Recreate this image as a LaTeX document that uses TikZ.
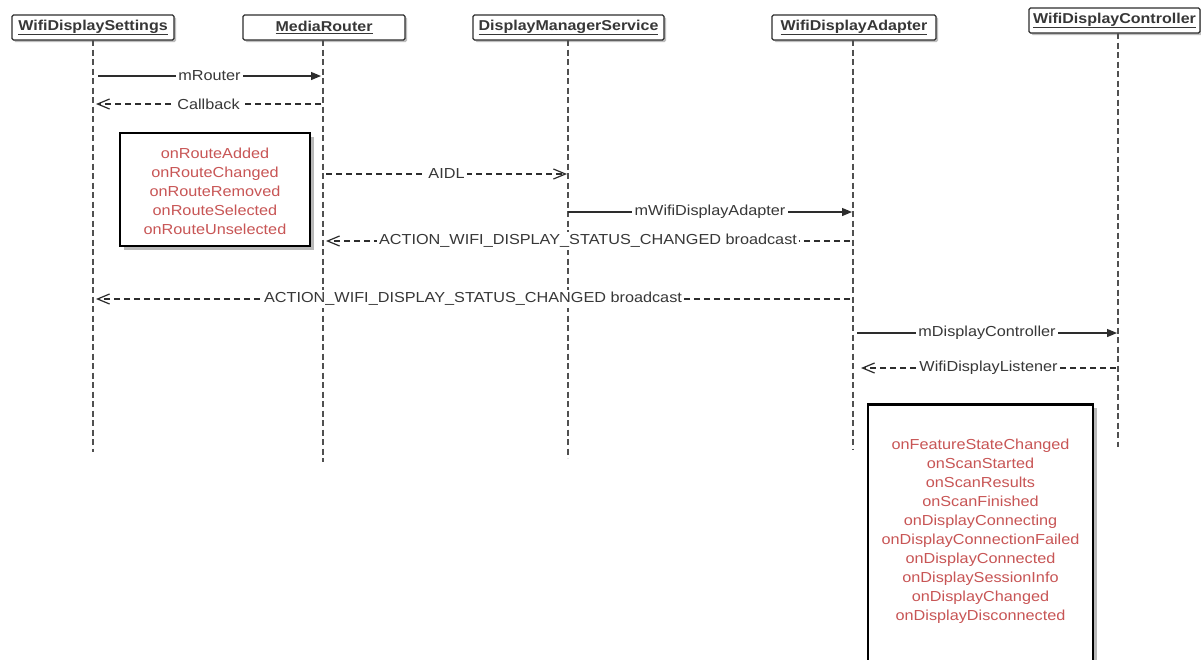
\documentclass[tikz,border=0pt]{standalone}
\usepackage{fontspec}
\setmainfont{Liberation Sans}[FakeStretch=1.12]
\usetikzlibrary{arrows.meta,shadows}
\definecolor{ink}{RGB}{45,45,45}
\definecolor{lifeink}{RGB}{80,80,80}
\definecolor{txt}{RGB}{55,55,55}
\definecolor{notered}{RGB}{200,85,85}
\tikzset{
 head/.style={draw=ink, line width=1.2pt, rounded corners=1.5pt, fill=white,
   minimum height=25pt, inner sep=0pt, text=txt,
   font=\bfseries\fontsize{14.3}{17}\selectfont,
   drop shadow={shadow xshift=2pt, shadow yshift=-2pt, fill=gray!50, opacity=1}},
 life/.style={draw=lifeink, line width=1.1pt, dash pattern=on 6pt off 3.5pt},
 sync/.style={draw=ink, line width=1.2pt, -{Triangle[length=10pt,width=8pt]}},
 reply/.style={draw=ink, line width=1.2pt, dash pattern=on 6pt off 4pt,
   -{Straight Barb[length=12pt,width=10pt]}},
 lbl/.style={fill=white, inner sep=2.5pt, text=txt, font=\fontsize{14.5}{17}\selectfont},
 notebox/.style={draw=black, line width=2.5pt, fill=white, inner sep=0pt,
   drop shadow={shadow xshift=4pt, shadow yshift=-4pt, fill=gray!55, opacity=1}},
 notetext/.style={text=notered, align=center, font=\fontsize{14.5}{19}\selectfont, inner sep=0pt},
}
\begin{document}
\begin{tikzpicture}[x=1pt,y=-1pt]
\clip (0,0) rectangle (1201,659);
\fill[white] (0,0) rectangle (1201,659);
% lifelines
\coordinate (eS) at (93,452);
\coordinate (eM) at (323,462);
\coordinate (eD) at (568,458);
\coordinate (eA) at (853,450);
\coordinate (eC) at (1118,447);
% headers
\node[head, minimum width=162pt] (hS) at (93,27.5) {\underline{WifiDisplaySettings}};
\node[head, minimum width=162pt] (hM) at (324,27.5) {\underline{MediaRouter}};
\node[head, minimum width=191pt] (hD) at (568.5,27.5) {\underline{DisplayManagerService}};
\node[head, minimum width=164pt] (hA) at (854,27.5) {\underline{WifiDisplayAdapter}};
\node[head, minimum width=171pt] (hC) at (1114.5,20.5) {\underline{WifiDisplayController}};
\draw[life] (93,40) -- (eS);
\draw[life] (323,40) -- (eM);
\draw[life] (568,40) -- (eD);
\draw[life] (853,40) -- (eA);
\draw[life] (1118,33) -- (eC);
% message end points
\coordinate (m1a) at (98,76);   \coordinate (m1b) at (321,76);
\coordinate (m2a) at (321,104); \coordinate (m2b) at (96,104);
\coordinate (m3a) at (326,174); \coordinate (m3b) at (567,174);
\coordinate (m4a) at (568,212); \coordinate (m4b) at (852,212);
\coordinate (m5a) at (850,241); \coordinate (m5b) at (326,241);
\coordinate (m6a) at (850,299); \coordinate (m6b) at (96,299);
\coordinate (m7a) at (857,333); \coordinate (m7b) at (1117,333);
\coordinate (m8a) at (1116,368); \coordinate (m8b) at (861,368);
% messages
\draw[sync]  (m1a) -- node[lbl]{mRouter} (m1b);
\draw[reply] (m2a) -- node[lbl]{Callback} (m2b);
\draw[reply] (m3a) -- node[lbl]{AIDL} (m3b);
\draw[sync]  (m4a) -- node[lbl]{mWifiDisplayAdapter} (m4b);
\draw[reply] (m5a) -- node[lbl]{ACTION\_WIFI\_DISPLAY\_STATUS\_CHANGED broadcast} (m5b);
\draw[reply] (m6a) -- node[lbl]{ACTION\_WIFI\_DISPLAY\_STATUS\_CHANGED broadcast} (m6b);
\draw[sync]  (m7a) -- node[lbl]{mDisplayController} (m7b);
\draw[reply] (m8a) -- node[lbl]{WifiDisplayListener} (m8b);
% notes
\node[notebox, minimum width=190pt, minimum height=113pt] (n1) at (215,189.5) {};
\node[notetext] (n1t) at (215,191) {onRouteAdded\\onRouteChanged\\onRouteRemoved\\onRouteSelected\\onRouteUnselected};
\node[notebox, minimum width=225pt, minimum height=300pt, anchor=north] (n2) at (980.5,403) {};
\node[notetext] (n2t) at (980.5,531.5) {onFeatureStateChanged\\onScanStarted\\onScanResults\\onScanFinished\\onDisplayConnecting\\onDisplayConnectionFailed\\onDisplayConnected\\onDisplaySessionInfo\\onDisplayChanged\\onDisplayDisconnected};
\end{tikzpicture}
\end{document}
